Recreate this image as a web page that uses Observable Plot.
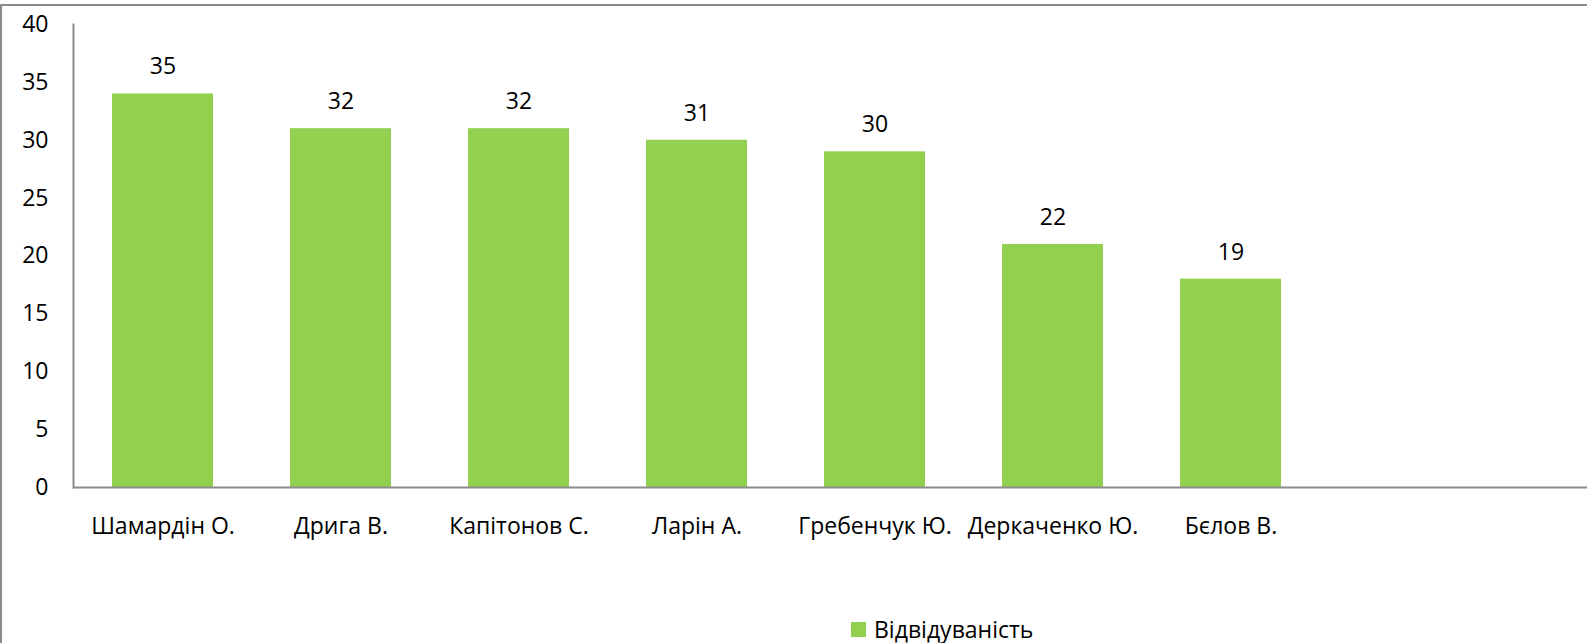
<!DOCTYPE html>
<html>
<head>
<meta charset="utf-8">
<script src="https://cdn.jsdelivr.net/npm/d3@7"></script>
<script src="https://cdn.jsdelivr.net/npm/@observablehq/plot@0.6"></script>
<style>
  body { margin: 0; background: #fff; }
  #wrap { position: relative; width: 1587px; height: 643px; overflow: hidden; }
  #border { position: absolute; left: 0; top: 4px; width: 1700px; height: 800px;
            border-top: 2px solid #8c8c8c; border-left: 2px solid #8c8c8c; box-sizing: border-box; }
  #chart { position: relative; height: 605px; }
  #legend { position: relative; height: 30px; margin-top: 9px; display: flex; align-items: center;
            padding-left: 851px; font-family: "Open Sans", sans-serif; font-size: 23px; line-height: 1; color: #000; }
  #legend .sw { width: 15px; height: 15px; background: #92D050; margin-right: 8px; }
</style>
</head>
<body>
<div id="wrap">
  <div id="border"></div>
  <div id="chart"></div>
  <div id="legend"><div class="sw"></div><span>Відвідуваність</span></div>
</div>
<script>
const names = ["Шамардін О.", "Дрига В.", "Капітонов С.", "Ларін А.", "Гребенчук Ю.", "Деркаченко Ю.", "Бєлов В."];
const values = [34, 31, 31, 30, 29, 21, 18];
const labels = ["35", "32", "32", "31", "30", "22", "19"];
const yTicks = [0, 5, 10, 15, 20, 25, 30, 35, 40];

const data = names.map((n, i) => ({name: n, value: values[i], label: labels[i]}));

const chart = Plot.plot({
  width: 1587,
  height: 605,
  marginTop: 24,
  marginBottom: 118,
  marginLeft: 73,
  marginRight: 0,
  style: {fontFamily: "Open Sans, sans-serif", fontSize: "23px", color: "#000", background: "transparent", display: "block"},
  x: {domain: names, range: [73, 1321], paddingInner: 0.43, paddingOuter: 0.215, label: null},
  y: {domain: [0, 40], label: null},
  marks: [
    Plot.barY(data, {x: "name", y: "value", fill: "#92D050"}),
    Plot.text(data, {x: "name", y: "value", text: "label", dy: -27, fill: "#000", fontSize: 23}),
    Plot.axisY({ticks: yTicks, tickSize: 0, tickPadding: 25, label: null, fill: "#000"}),
    Plot.axisX({tickSize: 0, tickPadding: 30, label: null, fill: "#000"}),
    Plot.frame({anchor: "left", stroke: "#8c8c8c", strokeWidth: 2}),
    Plot.ruleY([0], {stroke: "#8c8c8c", strokeWidth: 2})
  ]
});
document.getElementById("chart").appendChild(chart);
</script>
</body>
</html>
